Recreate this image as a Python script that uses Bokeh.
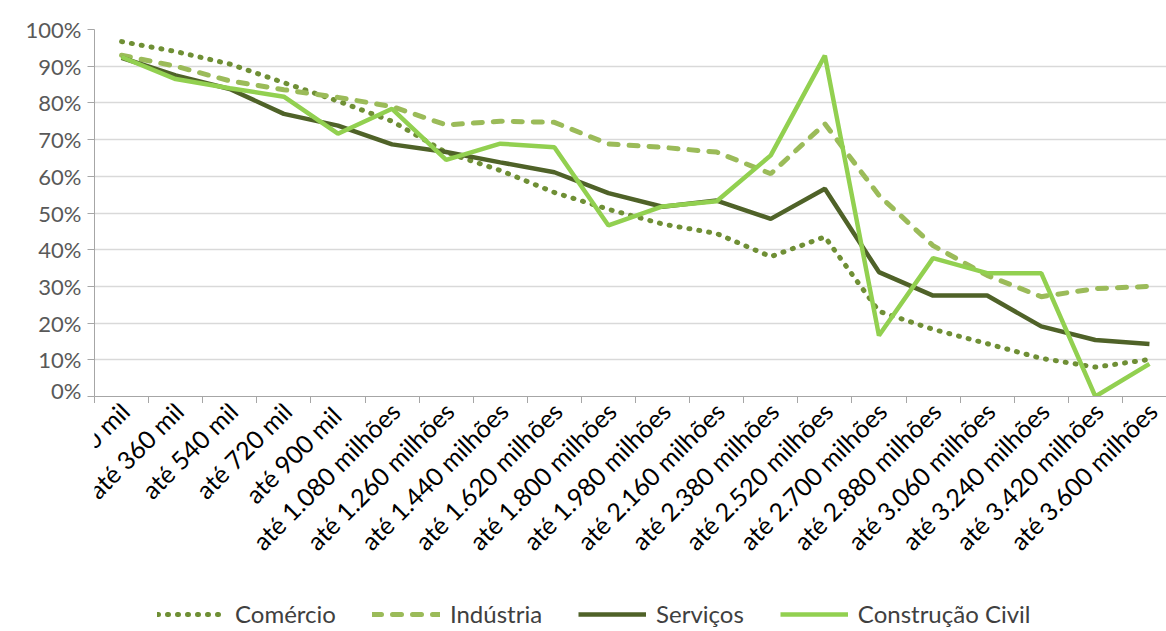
import math
from bokeh.plotting import figure
from bokeh.layouts import column
from bokeh.models import FixedTicker, Range1d, Legend, LegendItem, ColumnDataSource
from bokeh.core.properties import value
from bokeh.embed import file_html
from bokeh.resources import INLINE

categories = ["até 180 mil", "até 360 mil", "até 540 mil", "até 720 mil", "até  900 mil",
              "até 1.080 milhões", "até 1.260 milhões", "até 1.440 milhões", "até 1.620 milhões",
              "até 1.800 milhões", "até 1.980 milhões", "até 2.160 milhões", "até 2.380 milhões",
              "até 2.520 milhões", "até 2.700 milhões", "até 2.880 milhões", "até 3.060 milhões",
              "até 3.240 milhões", "até 3.420 milhões", "até 3.600 milhões"]

comercio = [96.7, 94.0, 90.6, 85.5, 80.5, 75.0, 66.5, 61.6, 55.6, 51.0, 47.0, 44.4, 38.1, 43.5,
            23.2, 18.3, 14.4, 10.4, 8.0, 10.1]
industria = [93.0, 90.0, 86.0, 83.6, 81.5, 79.0, 74.0, 75.0, 74.7, 68.8, 67.9, 66.6, 60.7, 74.3,
             54.8, 41.1, 33.0, 27.2, 29.4, 30.0]
servicos = [92.3, 87.5, 83.8, 77.0, 73.8, 68.7, 66.6, 63.8, 61.1, 55.4, 51.7, 53.4, 48.4, 56.6,
            33.9, 27.5, 27.5, 19.1, 15.4, 14.3]
construcao = [92.5, 86.5, 84.0, 81.7, 71.6, 78.4, 64.5, 68.9, 67.9, 46.6, 51.8, 53.2, 65.7, 92.9,
              16.6, 37.7, 33.6, 33.6, 0.0, 8.9]

series_names = ["Comércio", "Indústria", "Serviços", "Construção Civil"]
y_ticks = list(range(0, 101, 10))

styles = [dict(line_color="#6f8f35", line_width=5, line_dash="1 9", line_cap="round"),
          dict(line_color="#9bbb59", line_width=5, line_dash="9 11", line_cap="round"),
          dict(line_color="#4f6228", line_width=4.5),
          dict(line_color="#92d050", line_width=4.5)]

xs = list(range(len(categories)))
cols = ["com", "ind", "ser", "con"]
src = ColumnDataSource(dict(x=xs, com=comercio, ind=industria, ser=servicos, con=construcao))

LEFT, FRAME_W, TOP, FRAME_H, TOTAL_W, TOTAL_H = 94, 1072, 29, 367, 1166, 631
X0, X1 = -0.5, 19.315

p = figure(width=TOTAL_W, frame_width=FRAME_W, frame_height=FRAME_H,
           output_backend="svg", toolbar_location=None,
           x_range=Range1d(X0, X1), y_range=Range1d(0, 100),
           min_border_left=LEFT, min_border_right=0, min_border_top=TOP, min_border_bottom=0)
p.outline_line_color = None
p.background_fill_color = "white"
p.border_fill_color = "white"

for col, st in zip(cols, styles):
    p.line("x", col, source=src, **st)

# x axis: only the tick marks between categories
xa = p.xaxis[0]
xa.ticker = FixedTicker(ticks=xs, minor_ticks=[i - 0.5 for i in range(len(categories) + 1)])
xa.major_label_text_font_size = "0px"
xa.major_label_standoff = 0
xa.major_tick_out = 0
xa.major_tick_in = 0
xa.minor_tick_out = 7
xa.minor_tick_in = 0
xa.minor_tick_line_color = "#a6a6a6"
xa.axis_line_color = "#a6a6a6"

# y axis
ya = p.yaxis[0]
ya.ticker = FixedTicker(ticks=y_ticks)
ya.major_label_overrides = {t: f"{t}%" for t in y_ticks}
ya.major_tick_out = 7
ya.major_tick_in = 0
ya.minor_tick_out = 0
ya.minor_tick_in = 0
ya.major_tick_line_color = "#a6a6a6"
ya.axis_line_color = "#a6a6a6"
ya.major_label_text_font = "Lato"
ya.major_label_text_font_size = "22px"
ya.major_label_text_color = "#595959"
ya.major_label_standoff = 6

p.xgrid.visible = False
p.ygrid.ticker = FixedTicker(ticks=y_ticks)
p.ygrid.grid_line_color = "#d9d9d9"
p.ygrid.grid_line_width = 1.5

# lower panel: rotated category labels + legend (same x mapping as the chart)
H2 = TOTAL_H - (TOP + FRAME_H + 10)
p2 = figure(width=TOTAL_W, height=H2, frame_width=FRAME_W, frame_height=H2,
            output_backend="svg", toolbar_location=None,
            x_axis_type=None, y_axis_type=None,
            x_range=p.x_range, y_range=Range1d(0, H2),
            min_border_left=LEFT, min_border_right=0, min_border_top=0, min_border_bottom=0)
p2.grid.visible = False
p2.outline_line_color = None
p2.background_fill_color = "white"
p2.border_fill_color = "white"

lab_src = ColumnDataSource(dict(x=xs, y=[H2 - 3] * len(xs), t=categories))
p2.text(x="x", y="y", text="t", source=lab_src, angle=math.pi / 4,
        text_align="right", text_baseline="middle", x_offset=3,
        text_font=value("Lato"), text_font_size="25px", text_color="#000000")

# legend glyph carriers: same data, mapped onto a range far outside the visible area
p2.extra_y_ranges = {"hidden": Range1d(1000, 2000)}
leg_renderers = [p2.line("x", col, source=src, y_range_name="hidden", **st)
                 for col, st in zip(cols, styles)]
legend = Legend(items=[LegendItem(label=n, renderers=[r]) for n, r in zip(series_names, leg_renderers)],
                orientation="horizontal", location=(63, 0))
legend.glyph_width = 68
legend.label_standoff = 10
legend.spacing = 36
legend.border_line_color = None
legend.background_fill_alpha = 0
legend.label_text_font = "Lato"
legend.label_text_font_size = "24px"
legend.label_text_color = "#404040"
legend.margin = 0
legend.padding = 0
p2.add_layout(legend, "center")

layout = column(p, p2, spacing=0)
open("out.html", "w").write(file_html(layout, INLINE))
